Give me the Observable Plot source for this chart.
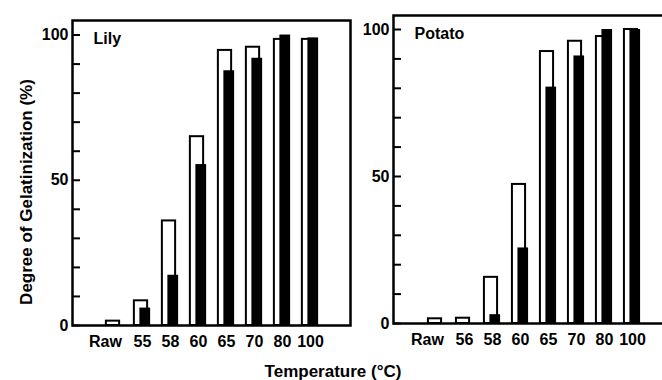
<!DOCTYPE html>
<html><head><meta charset="utf-8">
<script src="https://cdn.jsdelivr.net/npm/d3@7"></script>
<script src="https://cdn.jsdelivr.net/npm/@observablehq/plot@0.6"></script>
<style>
body{margin:0;background:#fff;overflow:hidden}
#wrap{position:relative;width:662px;height:380px;overflow:hidden;font-family:"Liberation Sans",Arial,sans-serif;background:#fff}
.p{position:absolute;top:0;z-index:1}
#ylab{position:absolute;z-index:2;left:27px;top:192px;transform:translate(-50%,-50%) rotate(-90deg);white-space:nowrap;font-size:17px;font-weight:bold;color:#000}
#xlab{position:absolute;z-index:2;left:333px;top:362px;transform:translateX(-50%);white-space:nowrap;font-size:17px;font-weight:bold;color:#000}
</style></head>
<body><div id="wrap"><div id="ylab">Degree of Gelatinization (%)</div><div id="xlab">Temperature (°C)</div></div>
<script>
const lilyTemps = ["Raw","55","58","60","65","70","80","100"];
const lilyOpen = [1.5, 8.5, 36, 65, 94.7, 95.8, 98.5, 98.5];
const lilyFilled = [0, 6, 17.3, 55.4, 87.7, 92, 100, 99];
const potatoTemps = ["Raw","56","58","60","65","70","80","100"];
const potatoOpen = [1.6, 1.8, 15.7, 47.3, 92.5, 96, 97.6, 100];
const potatoFilled = [0, 0, 3, 25.7, 80.4, 91, 100, 100];
const yTicks = d3.range(0, 101, 10);
const yLabels = [0, 50, 100];

function panel({name, temps, open, filled, left, width, marginLeft, marginRight, marginTop, bottom, yMax, xRange}) {
  const H = 380;
  const rows = temps.map((t, i) => ({t, open: open[i], filled: filled[i]}));
  const bw = (xRange[1] - xRange[0]) / temps.length;
  const half = bw / 2;
  const frameW = width - marginLeft - marginRight;
  const svg = Plot.plot({
    width, height: H, marginLeft, marginRight, marginTop, marginBottom: H - bottom,
    style: {background: "transparent", maxWidth: "none", overflow: "visible", fontFamily: "'Liberation Sans', Arial, sans-serif", fontSize: "16px", fontWeight: "bold", color: "black"},
    x: {domain: temps, range: xRange, padding: 0, axis: null},
    y: {domain: [0, yMax], axis: null},
    marks: [
      Plot.barY(rows, {x: "t", y: "open", fill: "white", stroke: "black", strokeWidth: 2, insetLeft: half - 8.5, insetRight: half - 5.5}),
      Plot.barY(rows, {x: "t", y: "filled", fill: "black", insetLeft: half - 3, insetRight: half - 8.5}),
      Plot.ruleY(yTicks, {y: d => d, stroke: "black", strokeWidth: 2, insetRight: frameW - 8}),
      Plot.frame({stroke: "black", strokeWidth: 2.5}),
      Plot.axisY(yLabels, {tickSize: 0, tickPadding: 4, label: null, fontSize: 16}),
      Plot.axisX(temps.slice(0, 1), {tickSize: 0, tickPadding: 10, label: null, dx: -9, fontSize: 16}),
      Plot.axisX(temps.slice(1), {tickSize: 0, tickPadding: 10, label: null, fontSize: 16}),
      Plot.text([name], {frameAnchor: "top-left", dx: 21, dy: 12, lineAnchor: "top", textAnchor: "start", fontSize: 16, fontWeight: "bold", fill: "black"})
    ]
  });
  svg.classList.add("p");
  svg.style.left = left + "px";
  document.getElementById("wrap").appendChild(svg);
}

panel({name: "Lily", temps: lilyTemps, open: lilyOpen, filled: lilyFilled,
  left: 0, width: 352, marginLeft: 72, marginRight: 2, marginTop: 20, bottom: 325,
  yMax: 105, xRange: [97, 327]});
panel({name: "Potato", temps: potatoTemps, open: potatoOpen, filled: potatoFilled,
  left: 352, width: 330, marginLeft: 41, marginRight: 0, marginTop: 15, bottom: 323,
  yMax: 104.76, xRange: [66.6, 297.4]});
</script>
</body></html>
